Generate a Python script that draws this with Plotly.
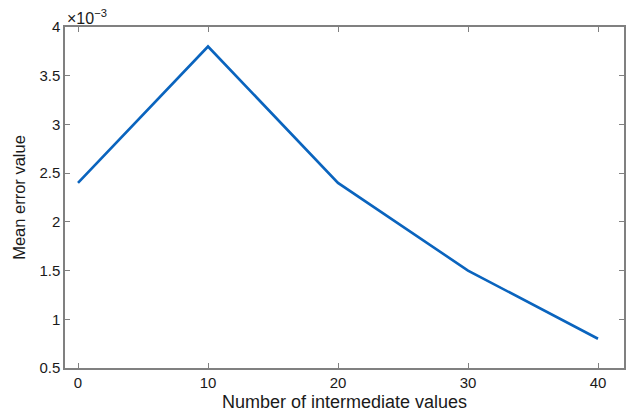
import plotly.graph_objects as go

x_vals = [0, 10, 20, 30, 40]
y_vals = [0.0024, 0.0038, 0.0024, 0.0015, 0.0008]
y_tick_vals = [0.0005, 0.001, 0.0015, 0.002, 0.0025, 0.003, 0.0035, 0.004]
y_tick_text = ["0.5", "1", "1.5", "2", "2.5", "3", "3.5", "4"]
x_tick_vals = [0, 10, 20, 30, 40]

fig = go.Figure()
fig.add_trace(go.Scatter(x=x_vals, y=y_vals, mode="lines",
                         line=dict(color="#0a64be", width=2.6), showlegend=False))

axis_common = dict(showline=True, linecolor="#808080", linewidth=1.5, mirror="allticks",
                   ticks="inside", ticklen=5, tickcolor="#808080", tickwidth=1,
                   showgrid=False, zeroline=False, automargin=False,
                   tickfont=dict(family="Liberation Sans, Arial", size=15, color="#1a1a1a"))

fig.update_xaxes(range=[-1, 42], tickvals=x_tick_vals,
                 title=dict(text="Number of intermediate values", standoff=6,
                            font=dict(family="Liberation Sans, Arial", size=18, color="#1a1a1a")),
                 **axis_common)
fig.update_yaxes(range=[0.0005, 0.004], tickvals=y_tick_vals, ticktext=y_tick_text,
                 title=dict(text="Mean error value", standoff=10,
                            font=dict(family="Liberation Sans, Arial", size=16.5, color="#1a1a1a")),
                 **axis_common)

fig.add_annotation(text="×10<sup>−3</sup>", xref="paper", yref="paper", x=0, y=1,
                   xanchor="left", yanchor="bottom", showarrow=False, xshift=0, yshift=-2,
                   font=dict(family="Liberation Sans, Arial", size=16, color="#1a1a1a"))

fig.update_layout(width=632, height=416, margin=dict(l=65, r=8, t=27, b=48),
                  plot_bgcolor="white", paper_bgcolor="white")

fig.write_html("out.html")
